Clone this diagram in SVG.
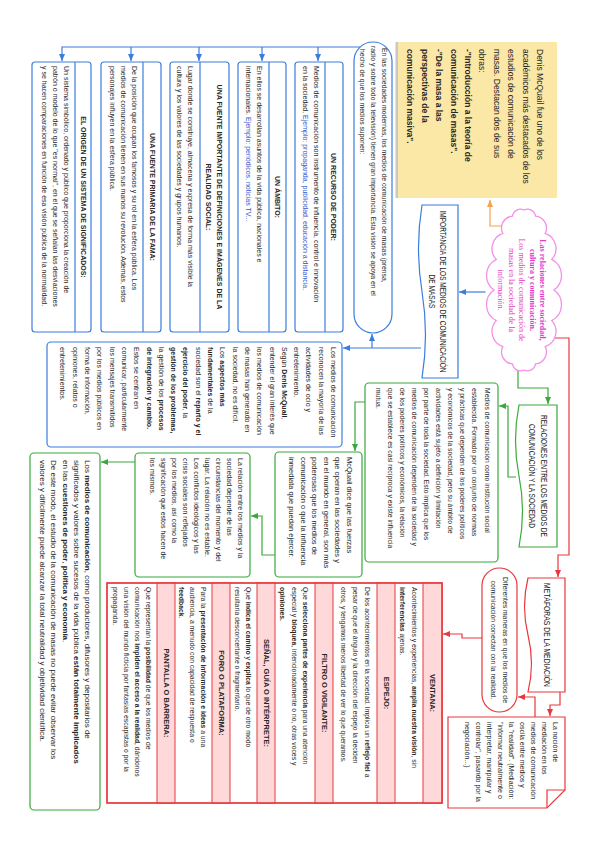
<svg xmlns="http://www.w3.org/2000/svg" width="599" height="848" viewBox="0 0 599 848">
<defs>
<marker id="mb" viewBox="0 0 7 6" refX="7" refY="3" markerWidth="7" markerHeight="6" orient="auto" markerUnits="userSpaceOnUse"><path d="M0,0 L7,3 L0,6 Z" fill="#3b7ddd"/></marker>
<marker id="mg" viewBox="0 0 7 6" refX="7" refY="3" markerWidth="7" markerHeight="6" orient="auto" markerUnits="userSpaceOnUse"><path d="M0,0 L7,3 L0,6 Z" fill="#3aa83a"/></marker>
<marker id="mr" viewBox="0 0 7 6" refX="7" refY="3" markerWidth="7" markerHeight="6" orient="auto" markerUnits="userSpaceOnUse"><path d="M0,0 L7,3 L0,6 Z" fill="#e8383d"/></marker>
<marker id="mo" viewBox="0 0 7 6" refX="7" refY="3" markerWidth="7" markerHeight="6" orient="auto" markerUnits="userSpaceOnUse"><path d="M0,0 L7,3 L0,6 Z" fill="#f5a34a"/></marker>
</defs>
<style>
text{font-family:"Liberation Sans",Arial,sans-serif;fill:#262626}
.b{font-weight:bold}
.s68{font-size:6.8px}
.s7{font-size:7px}
.s75{font-size:7.5px}
.s8{font-size:8px}
.s85{font-size:8.5px}
.c{text-anchor:middle}
.hw{font-size:9px;text-anchor:middle;fill:#222}
.bl{stroke:#3b7ddd;stroke-width:1.2;fill:#fff}
.gr{stroke:#3aa83a;stroke-width:1.2;fill:#fff}
.rd{stroke:#e8383d;stroke-width:1.2;fill:#fff}
.pk{fill:#ffd9d9;stroke:#e8383d;stroke-width:1}
.cb{stroke:#3b7ddd;stroke-width:1.2;fill:none}
.cg{stroke:#3aa83a;stroke-width:1.2;fill:none}
.cr{stroke:#e8383d;stroke-width:1.2;fill:none}
.co{stroke:#f5a34a;stroke-width:1.2;fill:none}
.blue{fill:#3355cc}
.mag{font-family:"Liberation Serif","Times New Roman",serif;font-size:8px;fill:#e23cc6;text-anchor:middle}
</style>
<rect width="599" height="848" fill="#ffffff"/>
<g transform="translate(599,0) rotate(90)">

<g id="connectors">
<path class="co" d="M226,97.5 V109 H200" marker-end="url(#mo)"/>
<path class="cb" d="M292,113.5 V140" marker-end="url(#mb)"/>
<path class="cb" d="M348,178 V256" marker-end="url(#mb)"/>
<path class="cb" d="M348,227 H334" marker-end="url(#mb)"/>
<path class="cb" d="M47,239 V537 H61" marker-end="url(#mb)"/>
<path class="cb" d="M47,281 H61" marker-end="url(#mb)"/>
<path class="cb" d="M47,337 H61" marker-end="url(#mb)"/>
<path class="cb" d="M47,400 H61" marker-end="url(#mb)"/>
<path class="cb" d="M47,468 H61" marker-end="url(#mb)"/>
<path class="cg" d="M370,81 H388 V51 H404" marker-end="url(#mg)"/>
<path class="cg" d="M477,83 V91 H406 V100" marker-end="url(#mg)"/>
<path class="cg" d="M402,234 V244 H451" marker-end="url(#mg)"/>
<path class="cg" d="M555,324 V337 H516 V348" marker-end="url(#mg)"/>
<path class="cg" d="M462,464 V498" marker-end="url(#mg)"/>
<path class="cr" d="M338,45 V30 H555 V41 H577" marker-end="url(#mr)"/>
<path class="cr" d="M692,39 H705 V49 H716" marker-end="url(#mr)"/>
<path class="cr" d="M717,64 H697 V81" marker-end="url(#mr)"/>
<path class="cr" d="M638,117 V137 H634 V156" marker-end="url(#mr)"/>
</g>

<g id="intro">
<rect x="42" y="44.5" width="156" height="159" fill="#c8c8c8"/>
<rect x="42" y="42" width="156" height="159" fill="#fce8a6"/>
<text class="s85"><tspan x="49" y="62">Denis McQuail fue uno de los</tspan><tspan x="49" y="76.4">académicos más destacados de los</tspan><tspan x="49" y="90.8">estudios de comunicación de</tspan><tspan x="49" y="105.2">masas. Destacan dos de sus</tspan><tspan x="49" y="119.6">obras:</tspan><tspan x="49" y="134" class="b">-"Introducción a la teoría de</tspan><tspan x="49" y="148.4" class="b">comunicación de masas".</tspan><tspan x="49" y="162.8" class="b">-"De la masa a las</tspan><tspan x="49" y="177.2" class="b">perspectivas de la</tspan><tspan x="49" y="191.6" class="b">comunicación masiva".</tspan></text>
</g>

<g id="cloud">
<path d="M210,75 A8,8 0 0 1 216.1,63.5 A12,12 0 0 1 233.4,53.8 A16,16 0 0 1 259.4,47.3 A18,18 0 0 1 290,45 A18,18 0 0 1 320.6,47.3 A16,16 0 0 1 346.6,53.8 A12,12 0 0 1 363.9,63.5 A8,8 0 0 1 370,75 A8,8 0 0 1 363.9,86.5 A12,12 0 0 1 346.6,96.2 A16,16 0 0 1 320.6,102.7 A18,18 0 0 1 290,105 A18,18 0 0 1 259.4,102.7 A16,16 0 0 1 233.4,96.2 A12,12 0 0 1 216.1,86.5 A8,8 0 0 1 210,75 Z" fill="#fff" stroke="#f58fe8" stroke-width="1.3"/>
<text class="mag"><tspan x="290" y="59" font-weight="bold">Las relaciones entre sociedad,</tspan><tspan x="290" y="69.5" font-weight="bold">cultura y comunicación.</tspan><tspan x="290" y="80">Los medios de comunicación de</tspan><tspan x="290" y="90.5">masas en la sociedad de la</tspan><tspan x="290" y="101">información.</tspan></text>
</g>

<g id="importancia">
<path class="bl" d="M205,141 H378 V177 Q335,170 291.5,177 Q248,184 205,177 Z"/>
<text class="hw"><tspan x="291.5" y="159" textLength="162" lengthAdjust="spacingAndGlyphs">IMPORTANCIA DE LOS MEDIOS DE COMUNICACIÓN</tspan><tspan x="291.5" y="170" textLength="34" lengthAdjust="spacingAndGlyphs">DE MASAS</tspan></text>
</g>

<g id="sociedades">
<rect class="bl" x="42" y="207" width="291" height="38" rx="19"/>
<text class="s68"><tspan x="48" y="217.5">En las sociedades modernas, los medios de comunicación de masas (prensa,</tspan><tspan x="46" y="228.5">radio y sobre todo la televisión) tienen gran importancia. Esta visión se apoya en el</tspan><tspan x="49" y="239.5">hecho de que los medios suponen:</tspan></text>
</g>

<g id="recurso">
<rect class="bl" x="62" y="256" width="270" height="48" rx="3"/>
<line class="cb" x1="62" y1="274" x2="332" y2="274"/>
<text class="s7 b c" x="197" y="268">UN RECURSO DE PODER:</text>
<text class="s7"><tspan x="66" y="285">Medios de comunicación son instrumento de influencia, control e innovación</tspan><tspan x="66" y="296">en la sociedad. <tspan class="blue">Ejemplo: propaganda, publicidad, educación a distancia.</tspan></tspan></text>
</g>

<g id="ambito">
<rect class="bl" x="62" y="313" width="270" height="48" rx="3"/>
<line class="cb" x1="62" y1="330" x2="332" y2="330"/>
<text class="s7 b c" x="197" y="324.5">UN ÁMBITO:</text>
<text class="s7"><tspan x="66" y="342">En ellos se desarrollan asuntos de la vida pública, nacionales e</tspan><tspan x="66" y="353">internacionales. <tspan class="blue">Ejemplo: periódicos, noticias TV...</tspan></tspan></text>
</g>

<g id="fuente">
<rect class="bl" x="62" y="370" width="270" height="59" rx="3"/>
<line class="cb" x1="62" y1="399" x2="332" y2="399"/>
<text class="s7 b c"><tspan x="197" y="382.5">UNA FUENTE IMPORTANTE DE DEFINICIONES E IMÁGENES DE LA</tspan><tspan x="197" y="393.5">REALIDAD SOCIAL:</tspan></text>
<text class="s7"><tspan x="66" y="411">Lugar donde se construye, almacena y expresa de forma más visible la</tspan><tspan x="66" y="422">cultura y los valores de las sociedades y grupos humanos.</tspan></text>
</g>

<g id="fama">
<rect class="bl" x="62" y="438" width="270" height="60" rx="3"/>
<line class="cb" x1="62" y1="456" x2="332" y2="456"/>
<text class="s7 b c" x="197" y="449.5">UNA FUENTE PRIMARIA DE LA FAMA:</text>
<text class="s7"><tspan x="66" y="467">De la posición que ocupan los famosos y su rol en la esfera pública. Los</tspan><tspan x="66" y="478">medios de comunicación tienen en sus manos su revolución. Además, estos</tspan><tspan x="66" y="489">personajes influyen en la esfera pública.</tspan></text>
</g>

<g id="origen">
<rect class="bl" x="62" y="508" width="270" height="59" rx="3"/>
<line class="cb" x1="62" y1="524" x2="332" y2="524"/>
<text class="s7 b c" x="197" y="518.5">EL ORIGEN DE UN SISTEMA DE SIGNIFICADOS:</text>
<text class="s7"><tspan x="66" y="535">Un sistema simbólico, ordenado y público que proporciona la creación de</tspan><tspan x="66" y="546">patrón o modelo de lo que "es normal", en el que se señalan las desviaciones</tspan><tspan x="66" y="557">y se hacen comparaciones en función de esa visión pública de la normalidad.</tspan></text>
</g>

<g id="medios">
<rect class="bl" x="342" y="257" width="105" height="295" rx="4"/>
<text class="s7"><tspan x="347" y="268">Los medios de comunicación</tspan><tspan x="347" dy="12.3">reconocen la mayoría de las</tspan><tspan x="347" dy="12.3">actividades de ocio y</tspan><tspan x="347" dy="12.3">entretenimiento.</tspan><tspan x="347" dy="12.3">Según <tspan class="b">Denis McQuail</tspan>,</tspan><tspan x="347" dy="12.3">entender el gran interés que</tspan><tspan x="347" dy="12.3">los medios de comunicación</tspan><tspan x="347" dy="12.3">de masas han generado en</tspan><tspan x="347" dy="12.3">la sociedad, no es difícil.</tspan><tspan x="347" dy="12.3">Los <tspan class="b">aspectos más</tspan></tspan><tspan x="347" dy="12.3"><tspan class="b">fundamentales</tspan> de la</tspan><tspan x="347" dy="12.3">sociedad son el <tspan class="b">reparto y el</tspan></tspan><tspan x="347" dy="12.3"><tspan class="b">ejercicio del poder</tspan>, la</tspan><tspan x="347" dy="12.3" class="b">gestión de los problemas,</tspan><tspan x="347" dy="12.3">la gestión de los <tspan class="b">procesos</tspan></tspan><tspan x="347" dy="12.3" class="b">de integración y cambio.</tspan><tspan x="347" dy="12.3">Estos se centran en</tspan><tspan x="347" dy="12.3">comunicar, particularmente</tspan><tspan x="347" dy="12.3">los mensajes transmitidos</tspan><tspan x="347" dy="12.3">por los medios públicos en</tspan><tspan x="347" dy="12.3">forma de información,</tspan><tspan x="347" dy="12.3">opiniones, relatos o</tspan><tspan x="347" dy="12.3">entretenimientos.</tspan></text>
</g>

<g id="relaciones">
<path class="gr" d="M405,42 H547 V80 Q511.5,73 476,80 Q440.5,87 405,80 Z"/>
<text class="hw"><tspan x="476" y="58" textLength="122" lengthAdjust="spacingAndGlyphs">RELACIONES ENTRE LOS MEDIOS DE</tspan><tspan x="476" y="70" textLength="104" lengthAdjust="spacingAndGlyphs">COMUNICACIÓN Y LA SOCIEDAD</tspan></text>
</g>

<g id="institucion">
<rect class="gr" x="383" y="101" width="179" height="133" rx="4"/>
<text class="s68"><tspan x="388" y="114.5">Medios de comunicación como institución social</tspan><tspan x="388" dy="12.1">establecida. Formado por un conjunto de normas</tspan><tspan x="388" dy="12.1">y prácticas que dependen de los poderes políticos</tspan><tspan x="388" dy="12.1">y económicos de la sociedad, pero su ámbito de</tspan><tspan x="388" dy="12.1">actividades está sujeto a definición y limitación</tspan><tspan x="388" dy="12.1">por parte de toda la sociedad. Esto implica que los</tspan><tspan x="388" dy="12.1">medios de comunicación dependen de la sociedad y</tspan><tspan x="388" dy="12.1">de los poderes políticos y económicos, la relación</tspan><tspan x="388" dy="12.1">que se establece es casi recíproca y existe influencia</tspan><tspan x="388" dy="12.1">mutua.</tspan></text>
</g>

<g id="fuerzas">
<rect class="gr" x="452" y="237" width="125" height="87" rx="4"/>
<text class="s75"><tspan x="457" y="252">McQuail dice que las fuerzas</tspan><tspan x="457" dy="11.6">que operan en las sociedades y</tspan><tspan x="457" dy="11.6">en el mundo en general, son más</tspan><tspan x="457" dy="11.6">poderosas que los medios de</tspan><tspan x="457" dy="11.6">comunicación o que la influencia</tspan><tspan x="457" dy="11.6">inmediata que puedan ejercer.</tspan></text>
</g>

<g id="relacion">
<rect class="gr" x="453" y="349" width="124" height="115" rx="4"/>
<text class="s7"><tspan x="458" y="361.5">La relación entre los medios y la</tspan><tspan x="458" dy="11">sociedad depende de las</tspan><tspan x="458" dy="11">circunstancias del momento y del</tspan><tspan x="458" dy="11">lugar. La relación no es estable.</tspan><tspan x="458" dy="11">Los conflictos ideológicos y las</tspan><tspan x="458" dy="11">crisis sociales son reflejados</tspan><tspan x="458" dy="11">por los medios, así como la</tspan><tspan x="458" dy="11">significación que estos hacen de</tspan><tspan x="458" dy="11">los mismos.</tspan></text>
</g>

<g id="valores">
<rect class="gr" x="453" y="499" width="357" height="70" rx="4"/>
<text class="s8"><tspan x="460" y="514">Los <tspan class="b">medios de comunicación</tspan>, como productores, difusores y depositarios de</tspan><tspan x="460" y="525.2">significados y valores sobre sucesos de la vida pública <tspan class="b">están totalmente implicados</tspan></tspan><tspan x="460" y="536.4">en las <tspan class="b">cuestiones de poder</tspan>, <tspan class="b">política y economía</tspan>.</tspan><tspan x="460" y="547.6">De este modo, el estudio de la comunicación de masas no puede evitar observar los</tspan><tspan x="460" y="558.8">valores y difícilmente puede alcanzar la total neutralidad y objetividad científica.</tspan></text>
</g>

<g id="metaforas">
<path class="rd" d="M578,34 H692 V71 Q663.5,64 635,71 Q606.5,78 578,71 Z"/>
<text class="hw" x="635" y="55" textLength="104" lengthAdjust="spacingAndGlyphs">METÁFORAS DE LA MEDIACIÓN</text>
</g>

<g id="nocion">
<path class="rd" d="M717,34 H790 L808,52 V151 H717 Z"/>
<path d="M790,34 V52 H808" fill="none" stroke="#e8383d" stroke-width="1.2"/>
<text class="s7"><tspan x="722" y="46.5">La noción de</tspan><tspan x="722" dy="11">mediación en los</tspan><tspan x="722" dy="11">medios de comunicación</tspan><tspan x="722" dy="11">oscila entre medios y</tspan><tspan x="722" dy="11">la "realidad". (Mediación:</tspan><tspan x="722" dy="11">"informar neutralmente o</tspan><tspan x="722" dy="11">interpretar, manipular y</tspan><tspan x="722" dy="11">controlar", pasando por la</tspan><tspan x="722" dy="11">negociación...)</tspan></text>
</g>

<g id="maneras">
<rect class="rd" x="568" y="82" width="144" height="35" rx="17.5"/>
<text class="s68 c"><tspan x="640" y="96.5">Diferentes maneras en que los medios de</tspan><tspan x="640" y="108.5">comunicación conectan con la realidad.</tspan></text>
</g>

<g id="tabla">
<rect class="rd" x="583" y="157" width="220" height="335"/>
<rect class="pk" x="583" y="157" width="220" height="19"/>
<rect class="pk" x="583" y="204" width="220" height="18"/>
<rect class="pk" x="583" y="266" width="220" height="18"/>
<rect class="pk" x="583" y="324" width="220" height="18"/>
<rect class="pk" x="583" y="369" width="220" height="18"/>
<rect class="pk" x="583" y="424" width="220" height="18"/>
<rect x="583" y="157" width="220" height="335" fill="none" stroke="#e8383d" stroke-width="1.3"/>
<text class="s75 b c"><tspan x="693" y="169">VENTANA:</tspan><tspan x="693" y="215.5">ESPEJO:</tspan><tspan x="693" y="277.5">FILTRO O VIGILANTE:</tspan><tspan x="693" y="335.5">SEÑAL, GUÍA O INTÉRPRETE:</tspan><tspan x="693" y="380.5">FORO O PLATAFORMA:</tspan><tspan x="693" y="435.5">PANTALLA O BARRERA:</tspan></text>
<text class="s68">
<tspan x="587" y="187.5">Acontecimientos y experiencias, <tspan class="b">amplía nuestra visión</tspan>, sin</tspan><tspan x="587" y="199"><tspan class="b">interferencias</tspan> ajenas.</tspan>
<tspan x="587" y="234">De los acontecimientos en la sociedad. Implica un <tspan class="b">reflejo fiel</tspan> a</tspan><tspan x="587" y="246">pesar de que el ángulo y la dirección del espejo la deciden</tspan><tspan x="587" y="258">otros, y tengamos menos libertad de ver lo que queramos.</tspan>
<tspan x="587" y="296">Que <tspan class="b">selecciona partes de experiencia</tspan> para una atención</tspan><tspan x="587" y="307.5">especial y <tspan class="b">bloquea</tspan>, intencionadamente o no, otras voces y</tspan><tspan x="587" y="319" class="b">opiniones.</tspan>
<tspan x="587" y="353">Que <tspan class="b">indica el camino</tspan> y <tspan class="b">explica</tspan> lo que de otro modo</tspan><tspan x="587" y="364">resultaría desconcertante o fragmentario.</tspan>
<tspan x="587" y="398">Para la <tspan class="b">presentación de información e ideas</tspan> a una</tspan><tspan x="587" y="409">audiencia, a menudo con capacidad de respuesta o</tspan><tspan x="587" y="420"><tspan class="b">feedback</tspan>.</tspan>
<tspan x="587" y="453.5">Que representan la <tspan class="b">posibilidad</tspan> de que los medios de</tspan><tspan x="587" y="464.5">comunicación nos <tspan class="b">impiden el acceso a la realidad</tspan>, dándonos</tspan><tspan x="587" y="475.5">una visión del mundo ficticia por fantasías escapistas o por la</tspan><tspan x="587" y="486.5">propaganda.</tspan>
</text>
</g>

</g>
</svg>
